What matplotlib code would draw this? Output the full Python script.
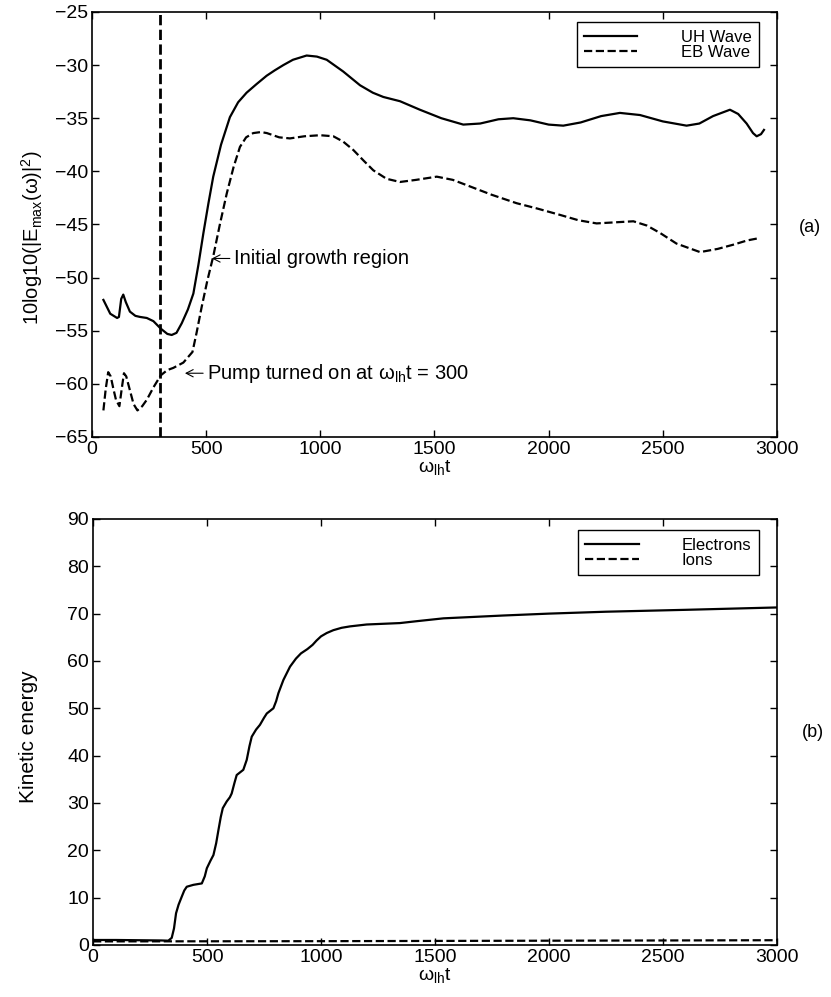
import matplotlib
matplotlib.use("Agg")
import matplotlib.pyplot as plt

plt.rcParams['font.family'] = ['Liberation Sans', 'DejaVu Sans']
plt.rcParams['mathtext.fontset'] = 'custom'
plt.rcParams['mathtext.rm'] = 'Liberation Sans'
plt.rcParams['mathtext.it'] = 'Liberation Sans'
plt.rcParams['mathtext.default'] = 'regular'

# (a) wave energy, dB
t_uh = [50, 80, 110, 118, 128, 137, 148, 166, 190, 210, 240, 269, 301, 330, 349, 370,
        393, 420, 444, 466, 488, 510, 531, 565, 604, 640, 677, 720, 765, 800, 838, 880,
        940, 985, 1028, 1100, 1174, 1230, 1276, 1349, 1436, 1530, 1626, 1700, 1780, 1845,
        1920, 2000, 2064, 2140, 2230, 2312, 2400, 2500, 2604, 2660, 2720, 2794, 2830,
        2867, 2895, 2911, 2930, 2943]
uh = [-52.1, -53.4, -53.8, -53.7, -52.0, -51.6, -52.3, -53.2, -53.6, -53.7, -53.8, -54.1,
      -54.8, -55.3, -55.4, -55.2, -54.3, -53.0, -51.5, -48.8, -45.8, -43.0, -40.5, -37.5,
      -34.9, -33.5, -32.6, -31.8, -31.0, -30.5, -30.0, -29.5, -29.1, -29.2, -29.5, -30.6,
      -31.9, -32.6, -33.0, -33.4, -34.2, -35.0, -35.6, -35.5, -35.1, -35.0, -35.2, -35.6,
      -35.7, -35.4, -34.8, -34.5, -34.7, -35.3, -35.7, -35.5, -34.8, -34.2, -34.6, -35.5,
      -36.4, -36.7, -36.5, -36.1]

t_eb = [50, 60, 71, 82, 93, 105, 120, 130, 140, 150, 166, 182, 199, 220, 240, 270, 301,
        330, 356, 400, 440, 458, 480, 505, 531, 560, 590, 620, 648, 675, 706, 740, 766,
        820, 867, 930, 999, 1057, 1100, 1145, 1190, 1232, 1290, 1349, 1420, 1510, 1580,
        1641, 1750, 1860, 1950, 2050, 2130, 2210, 2290, 2371, 2430, 2488, 2560, 2663,
        2740, 2809, 2870, 2918]
eb = [-62.5, -60.5, -58.9, -59.3, -60.4, -61.5, -62.1, -60.5, -59.0, -59.3, -60.6, -61.9,
      -62.5, -62.1, -61.5, -60.3, -59.2, -58.7, -58.5, -58.0, -57.0, -55.2, -52.8, -50.3,
      -48.0, -45.0, -42.1, -39.6, -37.7, -36.8, -36.4, -36.3, -36.4, -36.8, -36.9, -36.7,
      -36.6, -36.7, -37.2, -38.0, -39.0, -39.9, -40.7, -41.0, -40.8, -40.5, -40.8, -41.3,
      -42.2, -43.0, -43.5, -44.1, -44.6, -44.9, -44.8, -44.7, -45.1, -45.8, -46.8, -47.6,
      -47.3, -46.9, -46.5, -46.3]

# (b) kinetic energy
t_el = [0, 100, 200, 300, 330, 345, 355, 364, 375, 389, 400, 411, 440, 477, 490, 499,
        515, 528, 540, 550, 560, 569, 586, 600, 608, 620, 630, 659, 674, 686, 696, 715,
        732, 750, 762, 791, 803, 813, 835, 864, 890, 912, 940, 963, 980, 1000, 1025, 1054,
        1090, 1127, 1200, 1346, 1420, 1537, 1800, 2000, 2250, 2600, 3000]
electrons = [1.05, 1.05, 1.0, 0.95, 0.9, 1.5, 3.5, 6.7, 8.5, 10.2, 11.5, 12.3, 12.7, 13.0,
             14.5, 16.2, 17.8, 19.0, 21.5, 24.3, 27.0, 28.9, 30.3, 31.2, 32.0, 34.2, 35.9,
             37.0, 39.1, 42.0, 44.0, 45.5, 46.5, 48.0, 48.9, 50.0, 51.5, 53.2, 56.0, 58.8,
             60.5, 61.6, 62.5, 63.4, 64.3, 65.2, 65.9, 66.5, 67.0, 67.3, 67.7, 68.0, 68.4,
             69.0, 69.6, 70.0, 70.4, 70.8, 71.3]
t_ion = [0, 1000, 2000, 3000]
ions = [0.75, 0.8, 0.9, 1.0]

pump_t = 300

fig = plt.figure(figsize=(8.31, 9.97), dpi=100)
ax1 = fig.add_axes([0.1107, 0.5617, 0.8243, 0.4263])
ax2 = fig.add_axes([0.1120, 0.0522, 0.8230, 0.4273])

ax1.plot(t_uh, uh, 'k-', lw=1.6, label='UH Wave')
ax1.plot(t_eb, eb, 'k--', lw=1.6, label='EB Wave')
ax1.axvline(pump_t, color='k', ls='--', lw=2.0)
ax1.set_xlim(0, 3000)
ax1.set_ylim(-65, -25)
ax1.set_yticks(range(-65, -24, 5))

# arrows + labels like matlab's \leftarrow
arrow = dict(arrowstyle='->,head_length=0.35,head_width=0.18', lw=0.8, color='k',
             shrinkA=1, shrinkB=0)
ax1.annotate('Initial growth region', xy=(525, -48.2), xytext=(622, -48.2),
             fontsize=14.5, va='center', ha='left', arrowprops=arrow)
ax1.annotate('Pump turned on at $\\omega_{lh}$t = 300', xy=(407, -59.0),
             xytext=(505, -59.0), fontsize=14.5, va='center', ha='left',
             arrowprops=arrow)
ax1.set_xlabel('$\\omega_{lh}$t', fontsize=14, labelpad=0)
ax1.set_ylabel('10log10(|E$_{max}$($\\omega$)|$^2$)', fontsize=14.5)
ax1.yaxis.set_label_coords(-0.069, 0.47)

ax2.plot(t_el, electrons, 'k-', lw=1.6, label='Electrons')
ax2.plot(t_ion, ions, 'k--', lw=1.6, label='Ions')
ax2.set_xlim(0, 3000)
ax2.set_ylim(0, 90)
ax2.set_yticks(range(0, 91, 10))
ax2.set_xlabel('$\\omega_{lh}$t', fontsize=14, labelpad=0)
ax2.set_ylabel('Kinetic energy', fontsize=15)
ax2.yaxis.set_label_coords(-0.080, 0.49)

for ax, anchor in ((ax1, (0.9134, 0.9779)), (ax2, (0.9134, 0.4684))):
    ax.tick_params(direction='in', top=True, right=True, length=5, width=1,
                   labelsize=14, pad=3)
    for s in ax.spines.values():
        s.set_linewidth(1.2)
    leg = ax.legend(loc='upper right', bbox_to_anchor=anchor,
                    bbox_transform=fig.transFigure, fontsize=12, fancybox=False,
                    framealpha=1, edgecolor='k', handlelength=3.2, handletextpad=2.6,
                    labelspacing=0.0, borderpad=0.45, borderaxespad=0)
    leg.get_frame().set_linewidth(1.0)

fig.text(0.975, 0.772, '(a)', fontsize=13, ha='center', va='center')
fig.text(0.978, 0.265, '(b)', fontsize=13, ha='center', va='center')

fig.savefig('out.png', dpi=100)
